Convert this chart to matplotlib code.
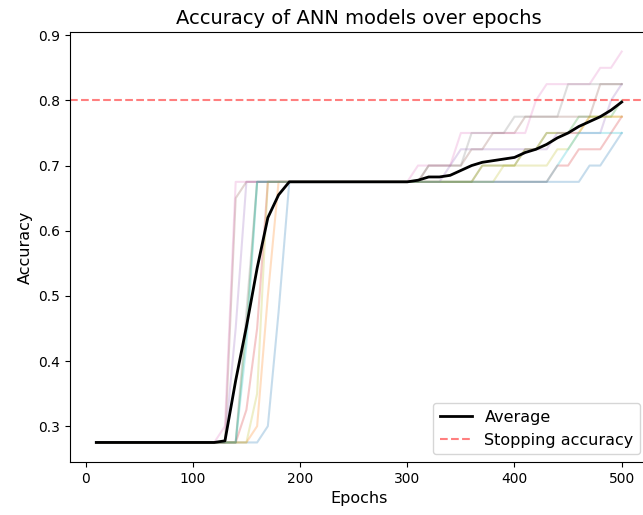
#!/usr/bin/env python3

import numpy as np
import matplotlib.pyplot as plt

epochs = list(range(10, 510, 10))
stopping_accuracy = 0.8

# accuracy of each ANN run (epochs 10..500)
start = [0.275] * 12          # epochs 10..120
plateau = [0.675] * 10        # epochs 200..290
runs = [
  # blue
  start + [0.275, 0.275, 0.275, 0.275, 0.3, 0.475, 0.675] + plateau +
  [0.675, 0.675, 0.675, 0.675, 0.675, 0.675, 0.675, 0.675, 0.675, 0.675, 0.675,
   0.675, 0.675, 0.675, 0.675, 0.675, 0.675, 0.7, 0.7, 0.725, 0.75],
  # orange
  start + [0.275, 0.275, 0.275, 0.3, 0.5, 0.675, 0.675] + plateau +
  [0.675, 0.675, 0.675, 0.675, 0.675, 0.675, 0.675, 0.7, 0.7, 0.7, 0.7,
   0.725, 0.725, 0.75, 0.75, 0.75, 0.75, 0.775, 0.775, 0.775, 0.775],
  # green
  start + [0.275, 0.275, 0.45, 0.675, 0.675, 0.675, 0.675] + plateau +
  [0.675, 0.675, 0.675, 0.675, 0.675, 0.675, 0.675, 0.7, 0.7, 0.7, 0.7,
   0.725, 0.725, 0.75, 0.75, 0.75, 0.775, 0.775, 0.775, 0.775, 0.8],
  # red
  start + [0.275, 0.275, 0.325, 0.45, 0.675, 0.675, 0.675] + plateau +
  [0.675, 0.675, 0.675, 0.675, 0.675, 0.675, 0.675, 0.675, 0.675, 0.675, 0.675,
   0.675, 0.675, 0.675, 0.7, 0.7, 0.725, 0.725, 0.725, 0.75, 0.775],
  # purple
  start + [0.275, 0.45, 0.675, 0.675, 0.675, 0.675, 0.675] + plateau +
  [0.675, 0.675, 0.675, 0.675, 0.7, 0.725, 0.725, 0.725, 0.725, 0.725, 0.725,
   0.725, 0.725, 0.725, 0.75, 0.75, 0.75, 0.75, 0.75, 0.8, 0.825],
  # brown
  start + [0.275, 0.65, 0.675, 0.675, 0.675, 0.675, 0.675] + plateau +
  [0.675, 0.675, 0.7, 0.7, 0.7, 0.7, 0.725, 0.725, 0.75, 0.75, 0.75,
   0.775, 0.775, 0.775, 0.775, 0.775, 0.775, 0.775, 0.825, 0.825, 0.825],
  # pink
  start + [0.3, 0.675, 0.675, 0.675, 0.675, 0.675, 0.675] + plateau +
  [0.675, 0.7, 0.7, 0.7, 0.7, 0.75, 0.75, 0.75, 0.75, 0.75, 0.75,
   0.75, 0.8, 0.825, 0.825, 0.825, 0.825, 0.825, 0.85, 0.85, 0.875],
  # gray
  start + [0.275, 0.275, 0.475, 0.675, 0.675, 0.675, 0.675] + plateau +
  [0.675, 0.675, 0.7, 0.7, 0.7, 0.7, 0.75, 0.75, 0.75, 0.75, 0.775,
   0.775, 0.775, 0.775, 0.775, 0.825, 0.825, 0.825, 0.825, 0.825, 0.825],
  # olive
  start + [0.275, 0.275, 0.275, 0.35, 0.675, 0.675, 0.675] + plateau +
  [0.675, 0.675, 0.675, 0.675, 0.675, 0.675, 0.675, 0.675, 0.675, 0.7, 0.7,
   0.7, 0.7, 0.7, 0.725, 0.725, 0.75, 0.775, 0.775, 0.775, 0.775],
  # cyan
  start + [0.275, 0.275, 0.425, 0.675, 0.675, 0.675, 0.675] + plateau +
  [0.675, 0.675, 0.675, 0.675, 0.675, 0.675, 0.675, 0.675, 0.675, 0.675, 0.675,
   0.675, 0.675, 0.675, 0.7, 0.725, 0.75, 0.75, 0.75, 0.75, 0.75],
]


def main():
  fig = plt.figure(figsize=(6.43, 5.15), dpi=100)
  # the axes run slightly past the right edge of the figure, as in the original
  ax = fig.add_axes([70 / 643, 53 / 515, 578 / 643, 430 / 515])

  for run in runs:
    ax.plot(epochs, run, alpha=0.25)

  average = np.mean(np.array(runs), axis=0)
  ax.plot(epochs, average, color="black", linewidth=2, label="Average")
  ax.axhline(y=stopping_accuracy, color="red", linestyle="--", alpha=0.5,
             label="Stopping accuracy")

  ax.set_title("Accuracy of ANN models over epochs", fontsize=14)
  ax.set_xlabel("Epochs", fontsize=11.5)
  ax.set_ylabel("Accuracy", fontsize=11.5)
  ax.legend(loc="lower right", fontsize=11.5)
  fig.savefig("out.png", dpi=100)


if __name__ == "__main__":
  main()
